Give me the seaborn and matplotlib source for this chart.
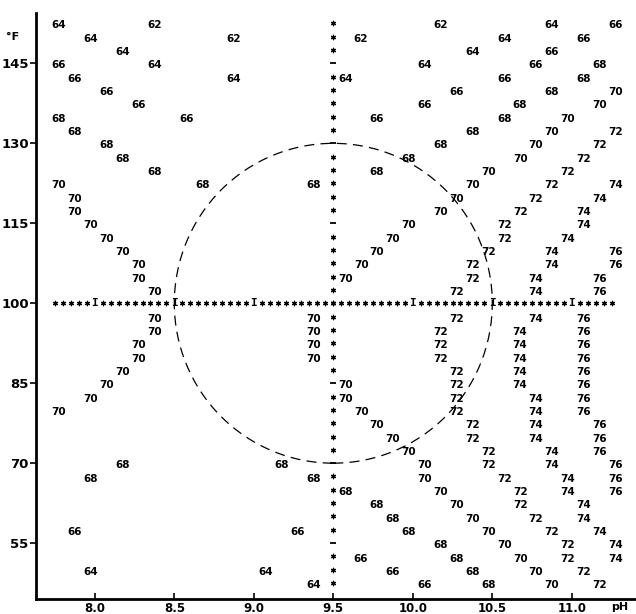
import numpy as np
import pandas as pd
import seaborn as sns
import matplotlib.pyplot as plt
from matplotlib.patches import Ellipse

# Printed isotherm values: pH position (centre of the two digits) and temperature row (deg F)
ph_62 = [8.375, 10.175, 8.875, 9.675]
temp_62 = [152.5, 152.5, 150, 150]

ph_64 = [7.775, 10.875, 7.975, 10.575, 8.175, 10.375, 8.375, 10.075, 8.875, 9.575,
         7.975, 9.075, 9.375]
temp_64 = [152.5, 152.5, 150, 150, 147.5, 147.5, 145, 145, 142.5, 142.5,
           50, 50, 47.5]

ph_66 = [11.275, 11.075, 10.875, 7.775, 10.775, 7.875, 10.575, 8.075, 10.275, 8.275,
         10.075, 8.575, 9.775, 7.875, 9.275, 9.675, 9.875, 10.075]
temp_66 = [152.5, 150, 147.5, 145, 145, 142.5, 142.5, 140, 140, 137.5,
           137.5, 135, 135, 57.5, 57.5, 52.5, 50, 47.5]

ph_68 = [11.175, 11.075, 10.875, 10.675, 7.775, 10.575, 7.875, 10.375, 8.075, 10.175,
         8.175, 9.975, 8.375, 9.775, 8.675, 9.375, 8.175, 9.175, 7.975, 9.375,
         9.575, 9.775, 9.875, 9.975, 10.175, 10.275, 10.375, 10.475]
temp_68 = [145, 142.5, 140, 137.5, 135, 135, 132.5, 132.5, 130, 130,
           127.5, 127.5, 125, 125, 122.5, 122.5, 70, 70, 67.5, 67.5,
           65, 62.5, 60, 57.5, 55, 52.5, 50, 47.5]

ph_70 = [11.275, 11.175, 10.975, 10.875, 10.775, 10.675, 10.475, 7.775, 10.375, 7.875,
         10.275, 7.875, 10.175, 7.975, 9.975, 8.075, 9.875, 8.175, 9.775, 8.275,
         9.675, 8.275, 9.575, 8.375, 8.375, 9.375, 8.375, 9.375, 8.275, 9.375,
         8.275, 9.375, 8.175, 8.075, 9.575, 7.975, 9.575, 7.775, 9.675, 9.775,
         9.875, 9.975, 10.075, 10.075, 10.175, 10.275, 10.375, 10.475, 10.575, 10.675,
         10.775, 10.875]
temp_70 = [140, 137.5, 135, 132.5, 130, 127.5, 125, 122.5, 122.5, 120,
           120, 117.5, 117.5, 115, 115, 112.5, 112.5, 110, 110, 107.5,
           107.5, 105, 105, 102.5, 97.5, 97.5, 95, 95, 92.5, 92.5,
           90, 90, 87.5, 85, 85, 82.5, 82.5, 80, 80, 77.5,
           75, 72.5, 70, 67.5, 65, 62.5, 60, 57.5, 55, 52.5,
           50, 47.5]

ph_72 = [11.275, 11.175, 11.075, 10.975, 10.875, 10.775, 10.675, 10.575, 10.575, 10.475,
         10.375, 10.375, 10.275, 10.275, 10.175, 10.175, 10.175, 10.275, 10.275, 10.275,
         10.275, 10.375, 10.375, 10.475, 10.475, 10.575, 10.675, 10.675, 10.775, 10.875,
         10.975, 10.975, 11.075, 11.175]
temp_72 = [132.5, 130, 127.5, 125, 122.5, 120, 117.5, 115, 112.5, 110,
           107.5, 105, 102.5, 97.5, 95, 92.5, 90, 87.5, 85, 82.5,
           80, 77.5, 75, 72.5, 70, 67.5, 65, 62.5, 60, 57.5,
           55, 52.5, 50, 47.5]

ph_74 = [11.275, 11.175, 11.075, 11.075, 10.975, 10.875, 10.875, 10.775, 10.775, 10.775,
         10.675, 10.675, 10.675, 10.675, 10.675, 10.775, 10.775, 10.775, 10.775, 10.875,
         10.875, 10.975, 10.975, 11.075, 11.075, 11.175, 11.275, 11.275]
temp_74 = [122.5, 120, 117.5, 115, 112.5, 110, 107.5, 105, 102.5, 97.5,
           95, 92.5, 90, 87.5, 85, 82.5, 80, 77.5, 75, 72.5,
           70, 67.5, 65, 62.5, 60, 57.5, 55, 52.5]

ph_76 = [11.275, 11.275, 11.175, 11.175, 11.075, 11.075, 11.075, 11.075, 11.075, 11.075,
         11.075, 11.075, 11.175, 11.175, 11.175, 11.275, 11.275, 11.275]
temp_76 = [110, 107.5, 105, 102.5, 97.5, 95, 92.5, 90, 87.5, 85,
           82.5, 80, 77.5, 75, 72.5, 70, 67.5, 65]

# printer reference cross through pH 9.5 / 100 F
center_ph, center_temp = 9.5, 100
dash_rows = [145, 130, 115, 85, 70, 55]
bar_cols = [8.0, 8.5, 9.0, 10.0, 10.5, 11.0]
circle_ph_radius, circle_temp_radius = 1.0, 30

x_ticks = [8.0, 8.5, 9.0, 9.5, 10.0, 10.5, 11.0]
x_ticklabels = ["8.0", "8.5", "9.0", "9.5", "10.0", "10.5", "11.0"]
y_ticks = [55, 70, 85, 100, 115, 130, 145]

groups = [(62, ph_62, temp_62), (64, ph_64, temp_64), (66, ph_66, temp_66),
          (68, ph_68, temp_68), (70, ph_70, temp_70), (72, ph_72, temp_72),
          (74, ph_74, temp_74), (76, ph_76, temp_76)]
df = pd.concat([pd.DataFrame({"ph": p, "temp": t, "value": v}) for v, p, t in groups],
               ignore_index=True)

# asterisk rows of the printout
col_rows = np.arange(47.5, 153, 2.5)
col_rows = [r for r in col_rows if r not in dash_rows]
row_cols = np.round(np.arange(7.75, 11.26, 0.05), 2)
row_cols = [c for c in row_cols if c not in bar_cols]
stars = pd.DataFrame({"ph": [center_ph] * len(col_rows) + list(row_cols),
                      "temp": list(col_rows) + [center_temp] * len(row_cols)})

sns.set_theme(style="white")
plt.rcParams['font.family'] = ['DejaVu Sans']
plt.rcParams['text.color'] = 'black'
plt.rcParams['xtick.color'] = 'black'
plt.rcParams['ytick.color'] = 'black'

fig = plt.figure(figsize=(6.36, 6.14), dpi=100)
ax = fig.add_axes([0.0561, 0.024, 0.9439, 0.955])

sns.scatterplot(data=stars, x="ph", y="temp", marker=(6, 2, 0), s=10,
                color="black", linewidth=0.9, ax=ax, legend=False)
ax.scatter([center_ph] * len(dash_rows), dash_rows, marker="_", s=16,
           color="black", linewidth=1.3)
for c in bar_cols:
    ax.text(c, center_temp, "I", ha="center", va="center", fontsize=8,
            fontweight="bold", family="DejaVu Sans Mono", color="black")

for _, r in df.iterrows():
    ax.annotate(str(int(r["value"])), (r["ph"], r["temp"]), xytext=(0, -1.5),
                textcoords="offset points", ha="center", va="center",
                fontsize=7.5, fontweight="bold", color="black")

ax.add_patch(Ellipse((center_ph, center_temp), 2 * circle_ph_radius,
                     2 * circle_temp_radius, fill=False, edgecolor="black",
                     linewidth=0.9, linestyle=(0, (8, 5))))

ax.set_xlim(7.628, 11.404)
ax.set_ylim(44.47, 154.47)
ax.set_xticks(x_ticks)
ax.set_xticklabels(x_ticklabels, fontsize=8.5, fontweight="bold")
ax.set_yticks(y_ticks)
ax.set_yticklabels([str(v) for v in y_ticks], fontsize=9.5, fontweight="bold")
ax.tick_params(axis="x", direction="in", length=4, width=1.2, pad=2, bottom=True)
ax.tick_params(axis="y", direction="out", length=4, width=1.2, pad=1, left=True)
ax.set_xlabel("")
ax.set_ylabel("")
for s in ["top", "right"]:
    ax.spines[s].set_visible(False)
ax.spines["left"].set_linewidth(2)
ax.spines["bottom"].set_linewidth(2)
ax.spines["left"].set_color("black")
ax.spines["bottom"].set_color("black")

fig.text(13 / 636, 1 - 37 / 614, "°F", fontsize=8, fontweight="bold",
         ha="center", va="center")
fig.text(620 / 636, 1 - 607 / 614, "pH", fontsize=8, fontweight="bold",
         ha="center", va="center")

fig.savefig("out.png", dpi=100)
